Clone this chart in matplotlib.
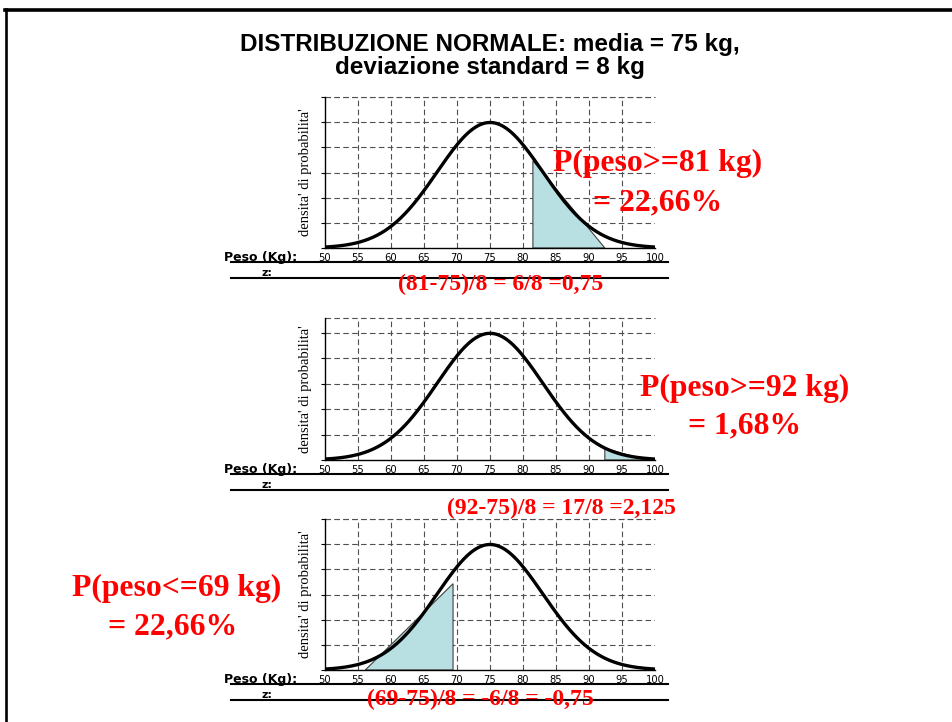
import numpy as np
import matplotlib.pyplot as plt
from matplotlib.lines import Line2D
from matplotlib.patches import Polygon

# Distribution parameters (from the title)
media = 75  # kg
dev_std = 8  # kg

# Axis values
x_ticks = [50, 55, 60, 65, 70, 75, 80, 85, 90, 95, 100]
x_grid = [55, 60, 65, 70, 75, 80, 85, 90, 95]
y_ticks = [0.0, 0.01, 0.02, 0.03, 0.04, 0.05, 0.06]
y_top = [0.06, 0.0559, 0.06]

# Shaded areas (kg, density)
shade_x = [[81.5, 81.5, 92.4], [92.4, 92.4, 98.5], [56.1, 69.4, 69.4]]
shade_y = [[0.0, 0.0347, 0.0], [0.0, 0.0047, 0.0], [0.0, 0.0343, 0.0]]

# Texts
title = "DISTRIBUZIONE NORMALE: media = 75 kg,\ndeviazione standard = 8 kg"
prob_labels = ["P(peso>=81 kg)", "P(peso>=92 kg)", "P(peso<=69 kg)"]
prob_values = ["= 22,66%", "= 1,68%", "= 22,66%"]
z_labels = ["(81-75)/8 = 6/8 =0,75", "(92-75)/8 = 17/8 =2,125",
            "(69-75)/8 = -6/8 = -0,75"]

W, H = 953, 722


def fx(px):
    return px / W


def fy(py):
    return 1 - py / H


fig = plt.figure(figsize=(W / 100, H / 100), dpi=100)
fig.patch.set_facecolor('white')

# frame lines (top and left)
fig.add_artist(Line2D([fx(5), fx(953)], [fy(10), fy(10)], color='black', lw=2.6))
fig.add_artist(Line2D([fx(6), fx(6)], [fy(8.5), fy(722)], color='black', lw=1.9))

fig.text(fx(490), fy(56), title, ha='center', va='center', fontsize=17.5,
         fontweight='bold', family='Liberation Sans', linespacing=1.0)

# axes: (top px, bottom px)
panels = [(97, 248), (318, 460), (519, 670)]
grid_kw = dict(color='#505050', lw=0.8, linestyle=(0, (5, 3)), zorder=1)

xs = np.linspace(50, 100, 500)
dens = np.exp(-0.5 * ((xs - media) / dev_std) ** 2) / (dev_std * np.sqrt(2 * np.pi))

for i, (top, bot) in enumerate(panels):
    ax = fig.add_axes([fx(325), fy(bot), fx(655) - fx(325), (bot - top) / H])
    ax.set_xlim(50, 100)
    ax.set_ylim(0, y_top[i])
    for s in ['right', 'top']:
        ax.spines[s].set_visible(False)
    ax.spines['left'].set_linewidth(1.0)
    ax.spines['bottom'].set_linewidth(1.0)

    # grid
    for g in x_grid:
        ax.plot([g, g], [0, y_top[i]], **grid_kw)
    for g in y_ticks[1:]:
        if g <= y_top[i] + 1e-9:
            ax.plot([50, 100], [g, g], **grid_kw)
    ax.plot([50, 100], [y_top[i], y_top[i]], clip_on=False, **grid_kw)

    # shaded area
    poly = Polygon(np.column_stack([shade_x[i], shade_y[i]]), closed=True,
                   facecolor='#b8dfe1', edgecolor='#404040', lw=0.8, zorder=2)
    ax.add_patch(poly)

    # curve
    ax.plot(xs, dens, color='black', lw=2.4, zorder=3, solid_capstyle='butt')

    ax.set_xticks(x_ticks)
    ax.set_xticklabels([str(t) for t in x_ticks], fontsize=7.2, family='DejaVu Sans')
    ax.tick_params(axis='x', length=0, pad=3.5)
    ax.set_yticks([t for t in y_ticks if t <= y_top[i] + 1e-9])
    ax.set_yticklabels([])
    ax.tick_params(axis='y', length=3, width=0.8, direction='out')

    ax.set_ylabel("densita' di probabilita'", family='Liberation Serif',
                  fontsize=10.5, labelpad=3)

    # Peso / z rows
    fig.text(fx(261), fy(bot + 9), "Peso (Kg):", ha='center', va='center',
             fontsize=9, fontweight='bold', family='DejaVu Sans')
    fig.text(fx(267), fy(bot + 24.5), "z:", ha='center', va='center',
             fontsize=8, fontweight='bold', family='DejaVu Sans')
    for off in (14, 30):
        fig.add_artist(Line2D([fx(231), fx(668)], [fy(bot + off), fy(bot + off)],
                              color='black', lw=1.5))

red_kw = dict(color='red', fontweight='bold', family='Liberation Serif',
              ha='left', va='center')

# probability texts
prob_pos = [(553, 163), (640, 388), (72, 588)]
val_pos = [(593, 203), (688, 426), (108, 627)]
z_pos = [(398, 284), (447, 508), (367, 699)]
for i in range(3):
    fig.text(fx(prob_pos[i][0]), fy(prob_pos[i][1]), prob_labels[i], fontsize=22.8, **red_kw)
    fig.text(fx(val_pos[i][0]), fy(val_pos[i][1]), prob_values[i], fontsize=22.8, **red_kw)
    fig.text(fx(z_pos[i][0]), fy(z_pos[i][1]), z_labels[i], fontsize=17, **red_kw)

fig.savefig('out.png', dpi=100)
